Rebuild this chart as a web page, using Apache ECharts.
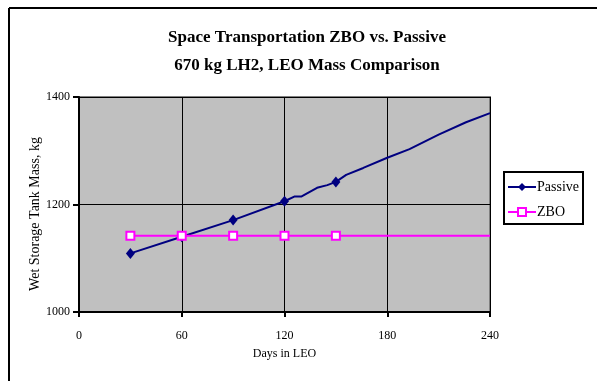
<!DOCTYPE html>
<html>
<head>
<meta charset="utf-8">
<script src="https://cdn.jsdelivr.net/npm/echarts@6/dist/echarts.min.js"></script>
<style>
html,body{margin:0;padding:0;background:#fff;}
#chart{width:597px;height:381px;}
</style>
</head>
<body>
<div id="chart"></div>
<script>
const titleLines = ['Space Transportation ZBO vs. Passive', '670 kg LH2, LEO Mass Comparison'];
const xAxisName = 'Days in LEO';
const yAxisName = 'Wet Storage Tank Mass, kg';
const xTicks = [0, 60, 120, 180, 240];
const yTicks = [1000, 1200, 1400];

const passiveDays = [30, 60, 90, 120, 126, 130, 139, 145, 150, 156, 166, 180, 193, 210, 226, 240];
const passiveMass = [1109, 1140, 1171, 1206, 1215, 1215, 1231, 1236, 1242, 1255, 1268, 1287, 1303, 1330, 1353, 1370];
const passiveMarkedDays = [30, 60, 90, 120, 150];

const zboDays = [30, 60, 90, 120, 150, 240];
const zboMass = [1142, 1142, 1142, 1142, 1142, 1142];
const zboMarkedDays = [30, 60, 90, 120, 150];

const serif = '"Liberation Serif", "DejaVu Serif", serif';

function build(days, mass, marked) {
  return days.map((d, i) => {
    const item = { value: [d, mass[i]] };
    if (marked.indexOf(d) < 0) item.symbol = 'none';
    return item;
  });
}

const chart = echarts.init(document.getElementById('chart'));
chart.setOption({
  animation: false,
  backgroundColor: '#ffffff',
  title: {
    text: titleLines.join('\n'),
    left: 302,
    top: 19,
    textAlign: 'center',
    textStyle: { fontFamily: serif, fontWeight: 'bold', fontSize: 17, lineHeight: 28, color: '#000' }
  },
  graphic: [
    { type: 'line', shape: { x1: 9, y1: 8, x2: 597, y2: 8 }, style: { stroke: '#000', lineWidth: 2 } },
    { type: 'line', shape: { x1: 9, y1: 8, x2: 9, y2: 381 }, style: { stroke: '#000', lineWidth: 2 } },
    { type: 'text', x: 35, y: 214, rotation: Math.PI / 2,
      style: { text: yAxisName, fontFamily: serif, fontSize: 14, fill: '#000', align: 'center', verticalAlign: 'middle' } }
  ],
  legend: {
    orient: 'vertical',
    left: 504,
    top: 172,
    width: 78,
    padding: [8, 4, 5, 3],
    itemGap: 11,
    itemWidth: 28,
    itemHeight: 10,
    borderColor: '#000',
    borderWidth: 2,
    textStyle: { fontFamily: serif, fontSize: 14, color: '#000', padding: [0, 0, 0, -4] },
    data: ['Passive', 'ZBO']
  },
  grid: {
    left: 79, right: 107, top: 97, bottom: 69,
    show: true,
    backgroundColor: '#C0C0C0',
    borderColor: '#808080',
    borderWidth: 2
  },
  xAxis: {
    type: 'value',
    min: xTicks[0], max: xTicks[xTicks.length - 1], interval: 60,
    name: xAxisName,
    nameLocation: 'middle',
    nameGap: 36,
    nameTextStyle: { fontFamily: serif, fontSize: 12, color: '#000' },
    axisLine: { show: true, lineStyle: { color: '#000', width: 2 } },
    axisTick: { show: true, inside: false, length: 5, lineStyle: { color: '#000', width: 2 } },
    axisLabel: { fontFamily: serif, fontSize: 12, color: '#000', margin: 18 },
    splitLine: { show: true, lineStyle: { color: '#000', width: 1 } }
  },
  yAxis: {
    type: 'value',
    min: yTicks[0], max: yTicks[yTicks.length - 1], interval: 200,
    axisLine: { show: true, lineStyle: { color: '#000', width: 2 } },
    axisTick: { show: true, inside: false, length: 6, lineStyle: { color: '#000', width: 2 } },
    axisLabel: { fontFamily: serif, fontSize: 12, color: '#000', margin: 9, formatter: v => String(v) },
    splitLine: { show: true, lineStyle: { color: '#000', width: 1 } }
  },
  series: [
    {
      name: 'Passive', type: 'line',
      data: build(passiveDays, passiveMass, passiveMarkedDays),
      symbol: 'diamond', symbolSize: [9, 11],
      itemStyle: { color: '#000080' },
      lineStyle: { color: '#000080', width: 2 },
      z: 3
    },
    {
      name: 'ZBO', type: 'line',
      data: build(zboDays, zboMass, zboMarkedDays),
      symbol: 'emptyRect', symbolSize: 8,
      itemStyle: { color: '#FF00FF', borderColor: '#FF00FF', borderWidth: 2 },
      lineStyle: { color: '#FF00FF', width: 2 },
      z: 4
    }
  ]
});
</script>
</body>
</html>
